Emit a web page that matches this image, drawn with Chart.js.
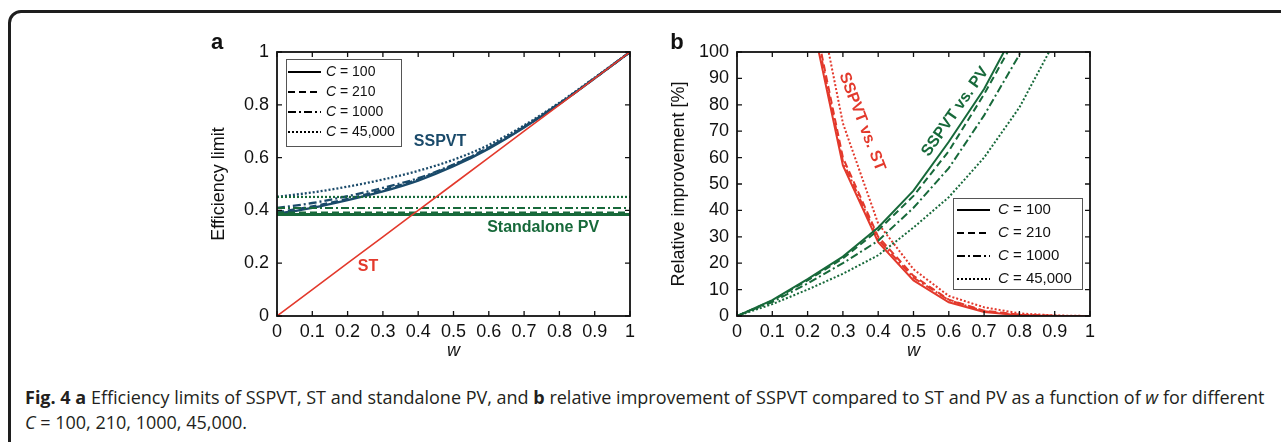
<!DOCTYPE html>
<html><head><meta charset="utf-8">
<script src="https://cdn.jsdelivr.net/npm/chart.js@4.4.1/dist/chart.umd.min.js"></script>
<style>
html,body{margin:0;padding:0;background:#fff;width:1281px;height:442px;overflow:hidden;}
#frame{position:absolute;left:8px;top:10px;width:1400px;height:600px;border:3px solid #1e1e1e;border-radius:13px;box-sizing:border-box;}
#ca{position:absolute;left:200px;top:30px;}
#cb{position:absolute;left:660px;top:30px;}
#caption{position:absolute;left:25px;top:385px;font-family:'Open Sans','Noto Sans',sans-serif;font-size:18px;line-height:25px;color:#231f20;white-space:nowrap;}
</style></head><body>
<div id="frame"></div>
<canvas id="ca" width="450" height="345"></canvas>
<canvas id="cb" width="450" height="345"></canvas>
<div id="caption"><b>Fig. 4</b> <b>a</b> Efficiency limits of SSPVT, ST and standalone PV, and <b>b</b> relative improvement of SSPVT compared to ST and PV as a function of <i>w</i> for different<br><i>C</i> = 100, 210, 1000, 45,000.</div>
<script>
// ---------- data ----------
const wValues = [0, 0.1, 0.2, 0.3, 0.4, 0.5, 0.6, 0.7, 0.8, 0.9, 1];
const cLabels = ['100', '210', '1000', '45,000'];

// panel a: efficiency limits
const stEfficiency = [0, 0.1, 0.2, 0.3, 0.4, 0.5, 0.6, 0.7, 0.8, 0.9, 1];
const pvLimit = [0.384, 0.392, 0.409, 0.451];            // standalone PV, C = 100, 210, 1000, 45,000
const sspvtC100   = [0.387, 0.410, 0.439, 0.472, 0.513, 0.567, 0.634, 0.714, 0.803, 0.900, 1.000];
const sspvtC210   = [0.393, 0.415, 0.444, 0.477, 0.518, 0.572, 0.638, 0.717, 0.805, 0.901, 1.000];
const sspvtC1000  = [0.409, 0.428, 0.454, 0.485, 0.522, 0.574, 0.638, 0.716, 0.804, 0.901, 1.000];
const sspvtC45000 = [0.451, 0.468, 0.490, 0.517, 0.550, 0.592, 0.648, 0.722, 0.808, 0.903, 1.000];

// panel b: relative improvement [%]
const vsPvC100   = [0, 6.0, 14.0, 22.5, 33.5, 47.5, 66.0, 86.0, 111, null, null];
const vsPvC210   = [0, 5.8, 13.5, 21.8, 32.5, 45.5, 62.5, 84.0, 108, null, null];
const vsPvC1000  = [0, 5.3, 12.3, 20.0, 28.5, 41.0, 56.0, 76.0, 99.0, 125, null];
const vsPvC45000 = [0, 4.5, 10.0, 16.0, 23.0, 33.5, 45.0, 60.0, 79.0, 104, null];
const vsStC100   = [null, 310, 120, 57.0, 28.0, 13.5, 5.2, 1.5, 0.3, 0, 0];
const vsStC210   = [null, 315, 125, 60.0, 30.0, 15.2, 6.2, 2.0, 0.5, 0.05, 0];
const vsStC1000  = [null, 320, 123, 58.5, 29.0, 14.5, 6.0, 1.8, 0.4, 0.05, 0];
const vsStC45000 = [null, 350, 140, 73.0, 35.0, 17.7, 7.6, 3.3, 1.0, 0.2, 0];

const xTicks = [0, 0.1, 0.2, 0.3, 0.4, 0.5, 0.6, 0.7, 0.8, 0.9, 1];

// ---------- styles ----------
const RED = '#e3392c', GREEN = '#17693a', BLUE = '#1a4a6a';
const dashes = [[], [7, 4], [8, 3, 2, 3], [2, 2]];
const FONT = '"Liberation Sans", Arial, Helvetica, sans-serif';

const pts = arr => wValues.map((w, i) => ({x: w, y: arr[i]}));

function line(label, data, color, i, width) {
  return {label, data, borderColor: color, backgroundColor: color, borderWidth: width,
          borderDash: dashes[i], pointRadius: 0, tension: 0, fill: false, clip: 0, spanGaps: false};
}

// ---------- plugin: frame, inward ticks, legend, labels ----------
const decor = {
  id: 'decor',
  afterDraw(chart, args, o) {
    const {ctx, chartArea: a, scales: {x, y}} = chart;
    ctx.save();
    // frame
    ctx.strokeStyle = '#111'; ctx.lineWidth = 1.8;
    ctx.strokeRect(a.left, a.top, a.right - a.left, a.bottom - a.top);
    ctx.lineWidth = 1.3;
    const L = 5;
    ctx.beginPath();
    x.ticks.forEach(t => {
      const p = x.getPixelForValue(t.value);
      ctx.moveTo(p, a.bottom); ctx.lineTo(p, a.bottom - L);
      ctx.moveTo(p, a.top); ctx.lineTo(p, a.top + L);
    });
    y.ticks.forEach(t => {
      const p = y.getPixelForValue(t.value);
      ctx.moveTo(a.left, p); ctx.lineTo(a.left + L, p);
      ctx.moveTo(a.right, p); ctx.lineTo(a.right - L, p);
    });
    ctx.stroke();
    // panel letter
    ctx.fillStyle = '#111';
    ctx.font = 'bold 22px ' + FONT;
    ctx.textAlign = 'center'; ctx.textBaseline = 'middle';
    ctx.fillText(o.letter, a.left - 60, a.top - 9);
    // legend
    const g = o.legend;
    const LX = a.left + g.dx, TY = a.top + g.dy;
    ctx.fillStyle = '#fff'; ctx.fillRect(LX, TY, g.w, g.h);
    ctx.strokeStyle = '#555'; ctx.lineWidth = 1;
    ctx.strokeRect(LX + 0.5, TY + 0.5, g.w, g.h);
    cLabels.forEach((c, i) => {
      const yy = TY + g.row0 + i * g.step;
      ctx.setLineDash(dashes[i]); ctx.lineWidth = 2; ctx.strokeStyle = '#000';
      ctx.beginPath(); ctx.moveTo(LX + g.s0, yy); ctx.lineTo(LX + g.s1, yy); ctx.stroke();
      ctx.setLineDash([]);
      ctx.fillStyle = '#111'; ctx.textAlign = 'left'; ctx.textBaseline = 'middle';
      ctx.font = 'italic ' + g.fs + 'px ' + FONT;
      ctx.fillText('C', LX + g.tx, yy);
      const cw = ctx.measureText('C').width;
      ctx.font = g.fs + 'px ' + FONT;
      ctx.fillText(' = ' + c, LX + g.tx + cw, yy);
    });
    // curve labels
    o.labels.forEach(l => {
      ctx.save();
      ctx.translate(x.getPixelForValue(l.x), y.getPixelForValue(l.y));
      ctx.rotate(l.rot * Math.PI / 180);
      ctx.fillStyle = l.color;
      ctx.font = 'bold ' + l.fs + 'px ' + FONT;
      ctx.textAlign = 'center'; ctx.textBaseline = 'middle';
      ctx.fillText(l.text, 0, 0);
      ctx.restore();
    });
    ctx.restore();
  }
};

function scales(yMax, yStep, yTitle, yFmt) {
  return {
    x: {type: 'linear', min: 0, max: 1,
        afterBuildTicks: s => { s.ticks = xTicks.map(v => ({value: v})); },
        afterFit: s => { s.height = 59; },
        grid: {display: false, drawTicks: false}, border: {display: false},
        ticks: {padding: 5, color: '#111', font: {family: FONT, size: 18}, maxRotation: 0, autoSkip: false,
                callback: v => String(+v.toFixed(1))},
        title: {display: true, text: 'w', color: '#111', padding: {top: 0, bottom: 13},
                font: {family: FONT, size: 18, style: 'italic'}}},
    y: {type: 'linear', min: 0, max: yMax,
        ticks: {stepSize: yStep, padding: 8, color: '#111', font: {family: FONT, size: 18}, callback: yFmt},
        afterFit: s => { s.width = 77; },
        grid: {display: false, drawTicks: false}, border: {display: false},
        title: {display: true, text: yTitle, color: '#111', padding: {top: 8, bottom: 0},
                font: {family: FONT, size: 18}}}
  };
}

// ---------- chart a ----------
const sspvt = [sspvtC100, sspvtC210, sspvtC1000, sspvtC45000];
const dsA = [line('ST', pts(stEfficiency), RED, 0, 1.6)];
pvLimit.forEach((v, i) => dsA.push(line('PV C=' + cLabels[i], [{x: 0, y: v}, {x: 1, y: v}], GREEN, i, i === 0 ? 3 : 2.2)));
sspvt.forEach((arr, i) => { const d = line('SSPVT C=' + cLabels[i], pts(arr), BLUE, i, 2.3); d.cubicInterpolationMode = 'monotone'; dsA.push(d); });

new Chart(document.getElementById('ca'), {
  type: 'line',
  data: {datasets: dsA},
  options: {
    responsive: false, animation: false, devicePixelRatio: 1,
    layout: {padding: {top: 22, right: 20, left: 0, bottom: 0}},
    scales: scales(1, 0.2, 'Efficiency limit', v => String(+v.toFixed(1))),
    plugins: {
      legend: {display: false}, tooltip: {enabled: false},
      decor: {
        letter: 'a',
        legend: {dx: 9, dy: 7, w: 115, h: 87, row0: 13, step: 20, s0: 2, s1: 35, tx: 40, fs: 14},
        labels: [
          {text: 'SSPVT', x: 0.462, y: 0.659, rot: 0, color: BLUE, fs: 16},
          {text: 'ST', x: 0.258, y: 0.189, rot: 0, color: RED, fs: 16},
          {text: 'Standalone PV', x: 0.754, y: 0.333, rot: 0, color: GREEN, fs: 16}
        ]
      }
    }
  },
  plugins: [decor]
});

// ---------- chart b ----------
const vsSt = [vsStC100, vsStC210, vsStC1000, vsStC45000];
const vsPv = [vsPvC100, vsPvC210, vsPvC1000, vsPvC45000];
const dsB = [];
vsPv.forEach((arr, i) => dsB.push(line('vs PV C=' + cLabels[i], pts(arr), GREEN, i, 2)));
vsSt.forEach((arr, i) => dsB.push(line('vs ST C=' + cLabels[i], pts(arr), RED, i, 2)));

new Chart(document.getElementById('cb'), {
  type: 'line',
  data: {datasets: dsB},
  options: {
    responsive: false, animation: false, devicePixelRatio: 1,
    layout: {padding: {top: 22, right: 20, left: 0, bottom: 0}},
    scales: scales(100, 10, 'Relative improvement [%]', v => String(v)),
    plugins: {
      legend: {display: false}, tooltip: {enabled: false},
      decor: {
        letter: 'b',
        legend: {dx: 216, dy: 146, w: 129, h: 91, row0: 12, step: 23, s0: 4, s1: 37, tx: 45, fs: 15},
        labels: [
          {text: 'SSPVT vs. ST', x: 0.354, y: 73.6, rot: 69, color: RED, fs: 16},
          {text: 'SSPVT vs. PV', x: 0.618, y: 77.4, rot: -55, color: GREEN, fs: 16}
        ]
      }
    }
  },
  plugins: [decor]
});
</script>
</body></html>
